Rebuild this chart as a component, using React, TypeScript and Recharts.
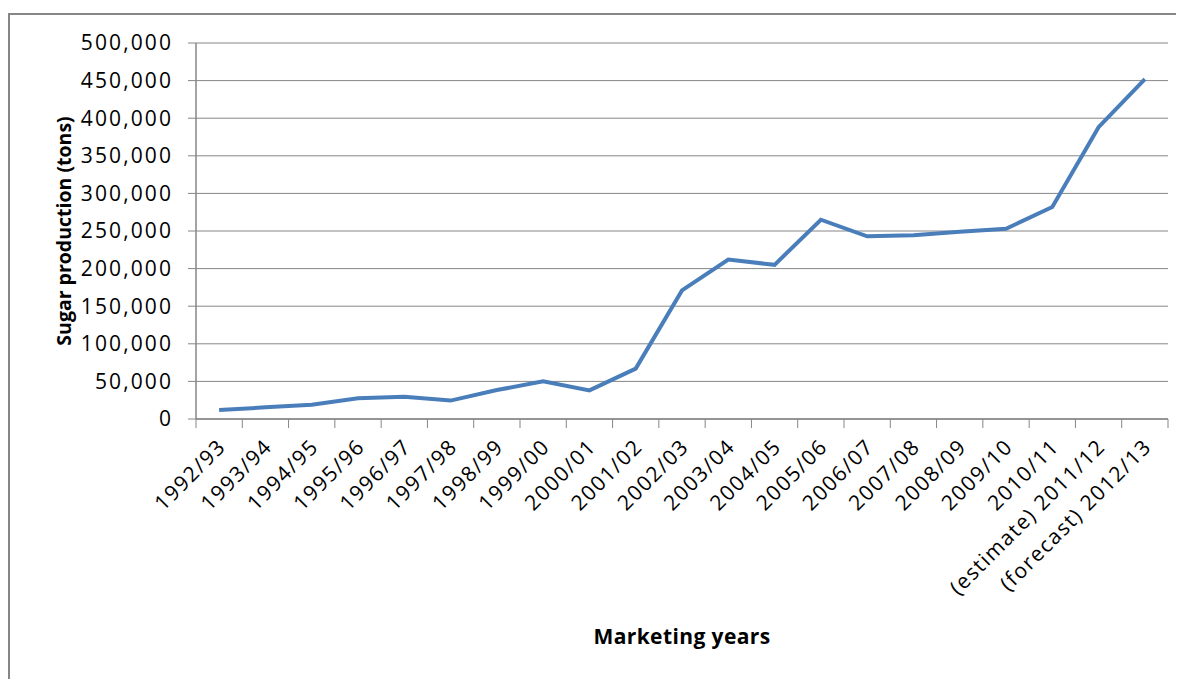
import React from 'react';
import { LineChart, Line, XAxis, YAxis, CartesianGrid } from 'recharts';

const categories = [
  '1992/93', '1993/94', '1994/95', '1995/96', '1996/97', '1997/98', '1998/99',
  '1999/00', '2000/01', '2001/02', '2002/03', '2003/04', '2004/05', '2005/06',
  '2006/07', '2007/08', '2008/09', '2009/10', '2010/11', '(estimate) 2011/12',
  '(forecast) 2012/13',
];

const production = [
  12000, 15500, 19000, 27500, 29500, 24500, 38500, 50000, 38000, 67000, 171000,
  212000, 205000, 265000, 243000, 244500, 249000, 253000, 282000, 388000, 452000,
];

const yTicks = [0, 50000, 100000, 150000, 200000, 250000, 300000, 350000, 400000, 450000, 500000];

const data = categories.map((c, i) => ({ year: c, value: production[i] }));

const FONT = '"Open Sans", sans-serif';
const AXIS = '#868686';

const XTick = (props: any) => {
  const { x, y, payload, index } = props;
  const off = payload && typeof payload.offset === 'number' && payload.offset > 0 ? payload.offset : 23.14;
  const last = index === categories.length - 1;
  const ax = x + 8;
  const ay = y + 29;
  return (
    <g>
      <line x1={x - off} y1={y} x2={x - off} y2={y + 9} stroke={AXIS} strokeWidth={1} />
      {last && <line x1={x + off} y1={y} x2={x + off} y2={y + 9} stroke={AXIS} strokeWidth={1} />}
      <text
        x={ax}
        y={ay}
        transform={`rotate(-45, ${ax}, ${ay})`}
        textAnchor="end"
        fontFamily={FONT}
        fontSize={21}
        letterSpacing={1.5}
        fill="#000"
      >
        {payload.value}
      </text>
    </g>
  );
};

const YTitle = () => {
  const cx = 55;
  const cy = 223;
  return (
    <text
      x={cx}
      y={cy}
      transform={`rotate(-90, ${cx}, ${cy})`}
      textAnchor="middle"
      dominantBaseline="central"
      fontFamily={FONT}
      fontSize={19.5}
      fontWeight={700}
      fill="#000"
    >
      Sugar production (tons)
    </text>
  );
};

export default function App() {
  return (
    <div style={{ position: 'relative', width: 1176, height: 671 }}>
      <div
        style={{
          position: 'absolute',
          left: 0,
          top: 5,
          width: 1176,
          height: 666,
          borderLeft: `2px solid ${AXIS}`,
          borderTop: `2px solid ${AXIS}`,
          boxSizing: 'border-box',
        }}
      />
      <LineChart
        width={1176}
        height={671}
        data={data}
        margin={{ top: 35, right: 16, left: 0, bottom: 20 }}
        style={{ position: 'absolute', left: 0, top: 0 }}
      >
        <CartesianGrid vertical={false} stroke={AXIS} strokeWidth={1} />
        <XAxis
          dataKey="year"
          scale="band"
          interval={0}
          tickLine={false}
          tickSize={0}
          tickMargin={0}
          height={240}
          axisLine={{ stroke: AXIS, strokeWidth: 1.5 }}
          tick={<XTick />}
          label={{
            value: 'Marketing years',
            position: 'insideBottom',
            offset: 15,
            style: { fontFamily: FONT, fontSize: 21, fontWeight: 700, fill: '#000', letterSpacing: 0.4 },
          }}
        />
        <YAxis
          width={188}
          domain={[0, 500000]}
          ticks={yTicks}
          interval={0}
          tickSize={8}
          tickMargin={15}
          tickLine={{ stroke: AXIS }}
          axisLine={{ stroke: AXIS, strokeWidth: 1.5 }}
          tickFormatter={(v: number) => v.toLocaleString('en-US')}
          tick={{ fontFamily: FONT, fontSize: 21, fill: '#000', letterSpacing: 2.1 }}
          label={<YTitle />}
        />
        <Line
          type="linear"
          dataKey="value"
          stroke="#4a7ebb"
          strokeWidth={4}
          dot={false}
          isAnimationActive={false}
        />
      </LineChart>
    </div>
  );
}
